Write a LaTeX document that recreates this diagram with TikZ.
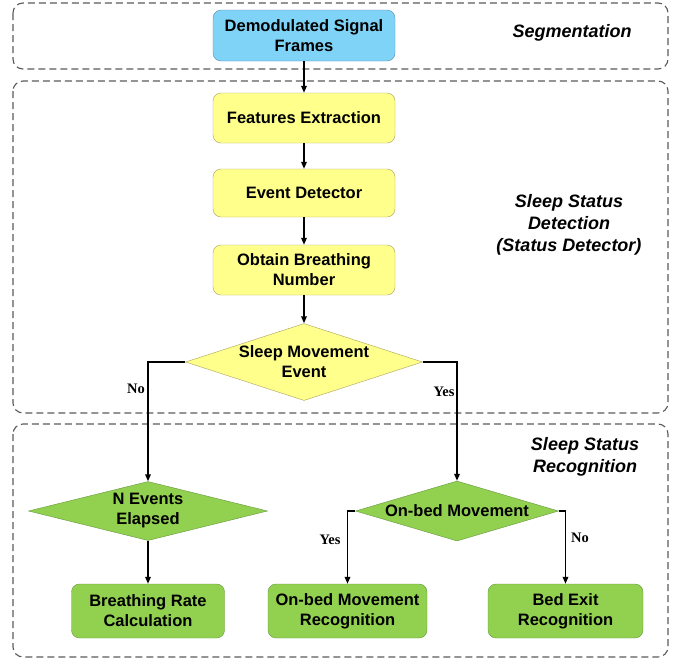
\documentclass[tikz,border=0pt]{standalone}
\usepackage{fontspec}
\setmainfont{Liberation Sans}
\newfontfamily\yesnofont{Liberation Serif}
\usetikzlibrary{arrows.meta, positioning, shapes.geometric}
\definecolor{frameblue}{RGB}{127,211,247}
\definecolor{frameblueline}{RGB}{90,140,180}
\definecolor{stepyellow}{RGB}{255,255,140}
\definecolor{stepyellowline}{RGB}{170,160,90}
\definecolor{stepgreen}{RGB}{146,208,80}
\definecolor{stepgreenline}{RGB}{100,150,60}
\definecolor{groupgray}{RGB}{90,90,90}
\tikzset{%
	process box/.style={
		rectangle,
		rounded corners=8pt,
		draw=stepyellowline,
		fill=stepyellow,
		minimum width=182pt,
		minimum height=50pt,
		inner sep=2pt,
		align=center,
		font=\bfseries\fontsize{16.5}{20}\selectfont
	},
	decision/.style={
		diamond,
		draw=stepyellowline,
		fill=stepyellow,
		inner sep=0pt,
		align=center,
		font=\bfseries\fontsize{16.5}{20}\selectfont
	},
	group box/.style={
		draw=groupgray,
		line width=1.1pt,
		dash pattern=on 7pt off 4pt,
		rounded corners=10pt
	},
	stage label/.style={
		align=center,
		font=\bfseries\itshape\fontsize{18}{22}\selectfont
	},
	branch label/.style={
		font=\yesnofont\bfseries\fontsize{14.5}{16}\selectfont
	},
	flow arrow/.style={
		line width=1.6pt,
		-{Triangle[length=7pt,width=5.5pt]}
	},
}
\begin{document}
\begin{tikzpicture}[x=1pt,y=-1pt]
	\useasboundingbox (0,0) rectangle (682,662);

	% Draw the three stages
	\draw[group box] (13,3) rectangle (668,69);
	\draw[group box] (13,81) rectangle (668,413);
	\draw[group box] (13,424) rectangle (668,657);

	\node[stage label] (segm) at (572,33) {Segmentation};
	\node[stage label] (detect) at (569,225) {Sleep Status\\Detection\\(Status Detector)};
	\node[stage label] (recog) at (585,457) {Sleep Status\\Recognition};

	% Draw the detection steps
	\node[process box, draw=frameblueline, fill=frameblue, minimum height=51pt] (frames) at (304,35.5) {Demodulated Signal\\Frames};
	\node[process box] (features) at (304,118) {Features Extraction};
	\node[process box, minimum height=48pt] (detector) at (304,193) {Event Detector};
	\node[process box] (breathing) at (304,270) {Obtain Breathing\\Number};
	\node[decision, minimum width=237pt, minimum height=77pt, aspect=3.08] (movement) at (304,362) {Sleep Movement\\Event};

	% Draw the recognition steps
	\node[decision, draw=stepgreenline, fill=stepgreen, minimum width=239pt, minimum height=59pt, aspect=4.05] (elapsed) at (148,511) {N Events\\Elapsed};
	\node[decision, draw=stepgreenline, fill=stepgreen, minimum width=203pt, minimum height=60pt, aspect=3.38] (onbed) at (457,511) {On-bed Movement};
	\node[process box, draw=stepgreenline, fill=stepgreen, minimum width=153pt, minimum height=54pt] (rate) at (148,611) {Breathing Rate\\Calculation};
	\node[process box, draw=stepgreenline, fill=stepgreen, minimum width=159pt, minimum height=54pt] (onbedrec) at (347.5,611) {On-bed Movement\\Recognition};
	\node[process box, draw=stepgreenline, fill=stepgreen, minimum width=155pt, minimum height=54pt] (exitrec) at (565.5,611) {Bed Exit\\Recognition};

	% Arrows
	\draw[flow arrow] (frames) -- (features);
	\draw[flow arrow] (features) -- (detector);
	\draw[flow arrow] (detector) -- (breathing);
	\draw[flow arrow] (breathing) -- (movement);
	\draw[flow arrow] (movement.west) -| (elapsed.north);
	\draw[flow arrow] (movement.east) -| (onbed.north);
	\draw[flow arrow] (elapsed) -- (rate);
	\draw[flow arrow] (onbed.west) -| (onbedrec.north);
	\draw[flow arrow] (onbed.east) -| (exitrec.north);

	\node[branch label] (no1) at (136,389) {No};
	\node[branch label] (yes1) at (444,392) {Yes};
	\node[branch label] (yes2) at (330,540) {Yes};
	\node[branch label] (no2) at (580,538) {No};
\end{tikzpicture}
\end{document}
